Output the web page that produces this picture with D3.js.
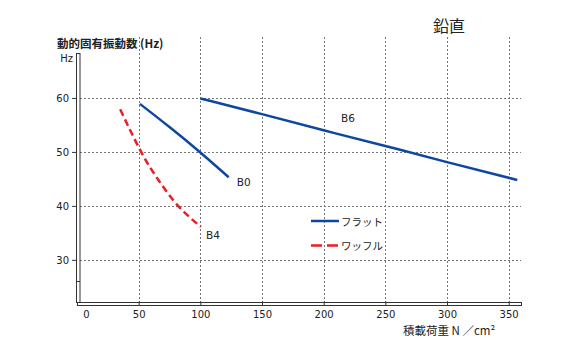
<!DOCTYPE html>
<html>
<head>
<meta charset="utf-8">
<script src="https://cdn.jsdelivr.net/npm/d3@7/dist/d3.min.js"></script>
<style>
  html, body { margin: 0; padding: 0; background: #fff; }
  svg { display: block; }
  text { font-family: "DejaVu Sans", "Noto Sans CJK JP", sans-serif; fill: #222; }
  .jp { font-family: "Noto Sans CJK JP", "DejaVu Sans", sans-serif; }
</style>
</head>
<body>
<svg id="chart" width="583" height="350"></svg>
<script>
// Load (N/cm²) vs. natural frequency (Hz)
const xTicks = [0, 50, 100, 150, 200, 250, 300, 350];
const yTicks = [30, 40, 50, 60];

const b6Load = [100, 150, 200, 250, 300, 357];
const b6Freq = [59.9, 57.0, 54.0, 51.1, 48.1, 44.8];

const b0Load = [51, 75, 100, 123];
const b0Freq = [58.9, 54.6, 49.9, 45.3];

const b4Load = [35, 52, 66, 82, 100.5];
const b4Freq = [57.9, 50.0, 44.8, 40.0, 36.1];

const seriesNames = ["B0", "B4", "B6"];
const legendNames = ["フラット", "ワッフル"];

const blue = "#0d47a1";
const red = "#ee1c25";

const svg = d3.select("#chart");

const x = d3.scaleLinear().domain([0, 360]).range([77, 521]);
const y = d3.scaleLinear().domain([22, 68.33]).range([303, 53]);

// dotted grid
const grid = svg.append("g").attr("stroke", "#777").attr("stroke-width", 1)
  .attr("stroke-dasharray", "2,2");
grid.selectAll("line.v").data(xTicks.filter(d => d > 0)).join("line")
  .attr("x1", d => Math.round(x(d)) + 0.5).attr("x2", d => Math.round(x(d)) + 0.5)
  .attr("y1", 37).attr("y2", 302);
grid.selectAll("line.h").data(yTicks).join("line")
  .attr("x1", 80).attr("x2", 521)
  .attr("y1", d => Math.round(y(d)) + 0.5).attr("y2", d => Math.round(y(d)) + 0.5);

// y axis (hollow bar) with ticks and labels
const yAxis = d3.axisLeft(y).tickValues(yTicks).tickSize(4).tickPadding(3);
const gy = svg.append("g").attr("transform", "translate(76,0)").call(yAxis);
gy.select(".domain").remove();
gy.selectAll(".tick line").attr("stroke", "#333");
gy.selectAll(".tick text").attr("font-size", 10).attr("fill", "#333")
  .style("font-family", "DejaVu Sans");
svg.append("rect").attr("x", 76.5).attr("y", 53.5).attr("width", 3.5).attr("height", 249)
  .attr("fill", "#fff").attr("stroke", "#333").attr("stroke-width", 1);
svg.append("line").attr("x1", 76.5).attr("x2", 80).attr("y1", 281.5).attr("y2", 281.5)
  .attr("stroke", "#333");

// x axis (hollow bar) with ticks and labels
const xAxis = d3.axisBottom(x).tickValues(xTicks).tickSize(5).tickPadding(4);
const gx = svg.append("g").attr("transform", "translate(0,302)").call(xAxis);
gx.select(".domain").remove();
gx.selectAll(".tick line").attr("stroke", "#333");
gx.selectAll(".tick text").attr("font-size", 10).attr("fill", "#333")
  .style("font-family", "DejaVu Sans");
gx.selectAll(".tick").filter(d => d === 0).select("line").remove();
gx.selectAll(".tick").filter(d => d === 0).select("text").attr("dx", 9);
svg.append("rect").attr("x", 77.5).attr("y", 302.5).attr("width", 444).attr("height", 3)
  .attr("fill", "#fff").attr("stroke", "#333").attr("stroke-width", 1);
gx.raise();
gx.selectAll(".tick line").attr("y1", -0.5).attr("y2", 4);

// curves
const line = d3.line().x(d => x(d[0])).y(d => y(d[1])).curve(d3.curveNatural);
const zip = (a, b) => a.map((v, i) => [v, b[i]]);

svg.append("path").datum(zip(b6Load, b6Freq)).attr("d", line)
  .attr("fill", "none").attr("stroke", blue).attr("stroke-width", 2.5);
svg.append("path").datum(zip(b0Load, b0Freq)).attr("d", line)
  .attr("fill", "none").attr("stroke", blue).attr("stroke-width", 2.5);
svg.append("path").datum(zip(b4Load, b4Freq)).attr("d", line)
  .attr("fill", "none").attr("stroke", red).attr("stroke-width", 2.5)
  .attr("stroke-dasharray", "7,4");

// series labels
const lab = svg.append("g").attr("font-size", 10.5).attr("dominant-baseline", "central");
lab.append("text").attr("x", x(b0Load[b0Load.length - 1]) + 8).attr("y", y(b0Freq[b0Freq.length - 1]) + 5).text(seriesNames[0]);
lab.append("text").attr("x", x(b4Load[b4Load.length - 1]) + 5).attr("y", y(b4Freq[b4Freq.length - 1]) + 8).text(seriesNames[1]);
lab.append("text").attr("x", x(214)).attr("y", y(56.3)).text(seriesNames[2]);

// legend
const lg = svg.append("g");
lg.append("line").attr("x1", 311).attr("x2", 339).attr("y1", 221).attr("y2", 221)
  .attr("stroke", blue).attr("stroke-width", 2.5);
lg.append("line").attr("x1", 311).attr("x2", 339).attr("y1", 245.5).attr("y2", 245.5)
  .attr("stroke", red).attr("stroke-width", 2.5).attr("stroke-dasharray", "11,5");
lg.append("text").attr("class", "jp").attr("x", 341).attr("y", 221).attr("font-size", 10.5)
  .attr("dominant-baseline", "central").text(legendNames[0]);
lg.append("text").attr("class", "jp").attr("x", 341).attr("y", 245.5).attr("font-size", 10.5)
  .attr("dominant-baseline", "central").text(legendNames[1]);

// titles
svg.append("text").attr("class", "jp").attr("x", 433).attr("y", 25).attr("font-size", 16)
  .attr("dominant-baseline", "central").text("鉛直");
svg.append("text").attr("class", "jp").attr("x", 57).attr("y", 43).attr("font-size", 11.5)
  .attr("font-weight", "bold").attr("dominant-baseline", "central").text("動的固有振動数 (Hz)");
svg.append("text").attr("x", 73).attr("y", 58).attr("font-size", 10).attr("fill", "#333")
  .attr("text-anchor", "end").attr("dominant-baseline", "central").text("Hz");
svg.append("text").attr("class", "jp").attr("x", 403).attr("y", 330).attr("font-size", 11.5)
  .attr("dominant-baseline", "central").text("積載荷重 N ／cm²");
</script>
</body>
</html>
